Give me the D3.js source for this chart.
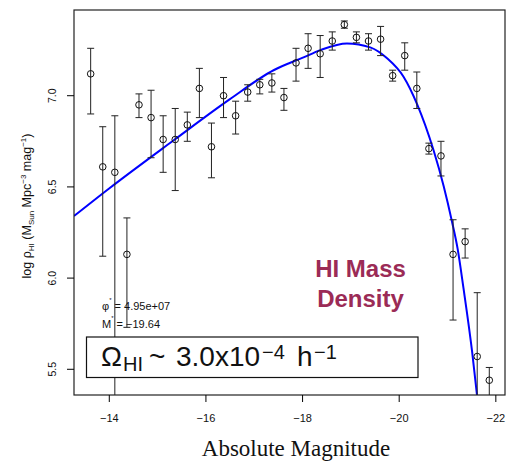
<!DOCTYPE html>
<html>
<head>
<meta charset="utf-8">
<script src="https://cdn.jsdelivr.net/npm/d3@7"></script>
<style>
  body { margin: 0; background: #fff; }
  svg { display: block; }
</style>
</head>
<body>
<div class="container"></div>
<script>
// absolute magnitude bins (0.25 mag wide)
var magnitudes = [-13.625, -13.875, -14.125, -14.375, -14.625, -14.875, -15.125, -15.375,
    -15.625, -15.875, -16.125, -16.375, -16.625, -16.875, -17.125, -17.375,
    -17.625, -17.875, -18.125, -18.375, -18.625, -18.875, -19.125, -19.375,
    -19.625, -19.875, -20.125, -20.375, -20.625, -20.875, -21.125, -21.375,
    -21.625, -21.875];
var logRho = [7.12, 6.61, 6.58, 6.13, 6.95, 6.88, 6.76, 6.76, 6.84, 7.04, 6.72, 7.00,
    6.89, 7.02, 7.06, 7.07, 6.99, 7.18, 7.26, 7.23, 7.30, 7.39, 7.32, 7.30,
    7.31, 7.11, 7.22, 7.04, 6.71, 6.67, 6.13, 6.20, 5.57, 5.44];
var errHigh = [7.26, 6.83, 6.89, 6.33, 7.01, 7.03, 6.89, 6.93, 6.91, 7.15, 6.85, 7.10,
    6.97, 7.06, 7.09, 7.12, 7.04, 7.26, 7.34, 7.33, 7.35, 7.41, 7.35, 7.34,
    7.38, 7.14, 7.29, 7.13, 6.74, 6.75, 6.32, 6.27, 5.92, 5.51];
var errLow = [6.90, 6.12, 5.00, 5.73, 6.88, 6.66, 6.58, 6.48, 6.75, 6.88, 6.55, 6.88,
    6.79, 6.97, 7.01, 7.02, 6.92, 7.08, 7.15, 7.10, 7.25, 7.37, 7.29, 7.25,
    7.22, 7.08, 7.14, 6.93, 6.68, 6.56, 5.77, 6.11, 5.00, 5.20];

// Schechter fit
var fitMag = [-13.28, -14.0, -15.35, -16.5, -17.42, -18.03, -18.38, -18.93, -19.41,
    -19.76, -20.10, -20.38, -20.72, -20.93, -21.10, -21.22, -21.34, -21.52, -21.62, -21.70];
var fitLogRho = [6.34, 6.49, 6.757, 6.98, 7.141, 7.21, 7.25, 7.287, 7.265,
    7.205, 7.104, 6.954, 6.702, 6.505, 6.313, 6.16, 5.946, 5.595, 5.359, 5.17];

var xTicks = [-14, -16, -18, -20, -22];
var yTicks = [5.5, 6.0, 6.5, 7.0];

var drawChart = function () {
    var W = 509, H = 465;
    var left = 74, right = 505, top = 10, bottom = 395;
    var sans = 'Liberation Sans, Arial, Helvetica, sans-serif';

    var svg = d3.select('.container')
        .append('svg')
        .attr('width', W)
        .attr('height', H);

    var x = d3.scaleLinear().domain([-13.28, -22.2]).range([left, right]);
    var y = d3.scaleLinear().domain([5.359, 7.47]).range([bottom, top]);

    svg.append('defs').append('clipPath')
        .attr('id', 'plotClip')
        .append('rect')
        .attr('x', left).attr('y', top)
        .attr('width', right - left).attr('height', bottom - top);

    var plot = svg.append('g').attr('clip-path', 'url(#plotClip)');

    // fitted curve
    var line = d3.line()
        .x(function (d) { return x(d[0]); })
        .y(function (d) { return y(d[1]); })
        .curve(d3.curveMonotoneX);

    plot.append('path')
        .datum(d3.zip(fitMag, fitLogRho))
        .attr('d', line)
        .style('fill', 'none')
        .style('stroke', '#0000ff')
        .style('stroke-width', 2);

    // error bars
    var pts = magnitudes.map(function (m, i) {
        return { m: m, v: logRho[i], lo: errLow[i], hi: errHigh[i] };
    });

    var bars = plot.append('g')
        .style('stroke', '#222')
        .style('stroke-width', 1);

    bars.selectAll('line.v')
        .data(pts).enter()
        .append('line')
        .attr('x1', function (d) { return x(d.m); })
        .attr('x2', function (d) { return x(d.m); })
        .attr('y1', function (d) { return y(d.lo); })
        .attr('y2', function (d) { return y(d.hi); });

    bars.selectAll('line.hi')
        .data(pts).enter()
        .append('line')
        .attr('x1', function (d) { return x(d.m) - 3.5; })
        .attr('x2', function (d) { return x(d.m) + 3.5; })
        .attr('y1', function (d) { return y(d.hi); })
        .attr('y2', function (d) { return y(d.hi); });

    bars.selectAll('line.lo')
        .data(pts).enter()
        .append('line')
        .attr('x1', function (d) { return x(d.m) - 3.5; })
        .attr('x2', function (d) { return x(d.m) + 3.5; })
        .attr('y1', function (d) { return y(d.lo); })
        .attr('y2', function (d) { return y(d.lo); });

    plot.append('g')
        .selectAll('circle')
        .data(pts).enter()
        .append('circle')
        .attr('cx', function (d) { return x(d.m); })
        .attr('cy', function (d) { return y(d.v); })
        .attr('r', 3.3)
        .style('fill', 'none')
        .style('stroke', '#111')
        .style('stroke-width', 1);

    // frame
    svg.append('rect')
        .attr('x', left).attr('y', top)
        .attr('width', right - left).attr('height', bottom - top)
        .style('fill', 'none')
        .style('stroke', '#222')
        .style('stroke-width', 1.2);

    // x axis
    var xAxis = svg.append('g')
        .attr('transform', 'translate(0,' + bottom + ')')
        .call(d3.axisBottom(x).tickValues(xTicks).tickSize(7).tickPadding(12)
            .tickFormat(function (d) { return '\u2212' + Math.abs(d); }));
    xAxis.select('.domain').remove();
    xAxis.selectAll('text')
        .style('font-family', sans)
        .style('font-size', '11px')
        .style('fill', '#111');

    // y axis
    var yAxis = svg.append('g')
        .attr('transform', 'translate(' + left + ',0)')
        .call(d3.axisLeft(y).tickValues(yTicks).tickSize(7)
            .tickFormat(d3.format('.1f')));
    yAxis.select('.domain').remove();
    yAxis.selectAll('text')
        .attr('transform', function (d) { return 'rotate(-90,' + (-22) + ',' + y(d) + ')'; })
        .attr('x', -22)
        .attr('y', function (d) { return y(d); })
        .attr('dy', '0.35em')
        .style('text-anchor', 'middle')
        .style('font-family', sans)
        .style('font-size', '10.5px')
        .style('fill', '#111');
    yAxis.selectAll('.tick').attr('transform', null);
    yAxis.selectAll('.tick line')
        .attr('y1', function (d) { return y(d); })
        .attr('y2', function (d) { return y(d); });

    // axis titles
    svg.append('text')
        .attr('x', 296).attr('y', 456)
        .style('text-anchor', 'middle')
        .style('font-family', 'Liberation Serif, Times New Roman, serif')
        .style('font-size', '23px')
        .style('fill', '#111')
        .text('Absolute Magnitude');

    var yl = svg.append('text')
        .attr('transform', 'translate(31,206) rotate(-90)')
        .style('text-anchor', 'middle')
        .style('font-family', sans)
        .style('font-size', '12.5px')
        .style('fill', '#111');
    yl.append('tspan').text('log \u03C1');
    yl.append('tspan').attr('dy', 2.5).style('font-size', '8px').text('HI');
    yl.append('tspan').attr('dy', -2.5).text(' (M');
    yl.append('tspan').attr('dy', 2.5).style('font-size', '8px').text('Sun');
    yl.append('tspan').attr('dy', -2.5).text(' Mpc');
    yl.append('tspan').attr('dy', -5).style('font-size', '8px').text('\u22123');
    yl.append('tspan').attr('dy', 5).text(' mag');
    yl.append('tspan').attr('dy', -5).style('font-size', '8px').text('\u22121');
    yl.append('tspan').attr('dy', 5).text(')');

    // fit parameters
    var p1 = svg.append('text')
        .attr('x', 102).attr('y', 310)
        .style('font-family', sans)
        .style('font-size', '11px')
        .style('fill', '#111');
    p1.append('tspan').text('\u03C6');
    p1.append('tspan').attr('dy', -8).style('font-size', '6px').text('*');
    p1.append('tspan').attr('dy', 8).text(' = 4.95e+07');

    var p2 = svg.append('text')
        .attr('x', 102).attr('y', 327.5)
        .style('font-family', sans)
        .style('font-size', '11px')
        .style('fill', '#111');
    p2.append('tspan').text('M');
    p2.append('tspan').attr('dy', -8).style('font-size', '6px').text('*');
    p2.append('tspan').attr('dy', 8).text(' = \u221219.64');

    // Omega box
    svg.append('rect')
        .attr('x', 86.5).attr('y', 337)
        .attr('width', 331.5).attr('height', 40.5)
        .style('fill', '#fff')
        .style('stroke', '#111')
        .style('stroke-width', 1.2);

    var om = svg.append('text')
        .attr('y', 366)
        .style('font-family', sans)
        .style('font-size', '28px')
        .style('fill', '#111');
    om.append('tspan').attr('x', 101).text('\u03A9');
    om.append('tspan').attr('x', 123).attr('dy', 5).style('font-size', '20px').text('HI');
    om.append('tspan').attr('x', 149).attr('dy', -5).text('~');
    om.append('tspan').attr('x', 176).text('3.0x10');
    om.append('tspan').attr('x', 262).attr('dy', -7).style('font-size', '20px').text('\u22124');
    om.append('tspan').attr('x', 297).attr('dy', 7).text('h');
    om.append('tspan').attr('x', 314).attr('dy', -7).style('font-size', '20px').text('\u22121');

    // label
    var lab = svg.append('text')
        .style('text-anchor', 'middle')
        .style('font-family', sans)
        .style('font-weight', 'bold')
        .style('font-size', '24px')
        .style('fill', '#9b2b56');
    lab.append('tspan').attr('x', 360.5).attr('y', 277).text('HI Mass');
    lab.append('tspan').attr('x', 360.5).attr('y', 307).text('Density');
};
window.onload = drawChart;
</script>
</body>
</html>
